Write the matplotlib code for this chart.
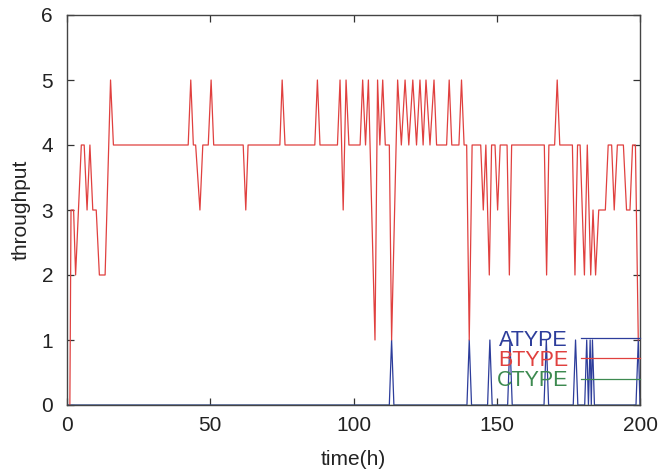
import matplotlib
matplotlib.use("Agg")
import matplotlib.pyplot as plt

plt.rcParams['font.family'] = ['Liberation Sans', 'DejaVu Sans']

# BTYPE throughput (red), vertices
b_time = [1, 1.4, 2.3, 3, 5, 6, 7, 8, 9, 10.2, 11.3, 13.3, 15.2, 16.2,
          42.3, 43.2, 44.1, 44.9, 46.4, 47.4, 49.3, 50.3, 51.2,
          61.5, 62.4, 63.2, 74.3, 75.1, 76.1, 86.5, 87.4, 88.3,
          94.4, 95.3, 96.4, 97.4, 98.4, 102.3, 103.2, 104.2, 105.2,
          107.5, 108.4, 109.2, 110.2, 111.1, 112.5, 113.3,
          115.4, 116.7, 118.0, 119.3, 120.7, 122.0, 123.2, 124.3, 125.3,
          126.7, 128.1, 129.0, 132.5, 133.4, 134.3, 136.8, 137.7, 138.6,
          139.5, 140.4, 141.4, 144.4, 145.3, 146.2, 147.4, 148.2, 149.4,
          150.3, 151.2, 153.6, 154.4, 155.2, 166.6, 167.4, 168.2, 170.2,
          171.1, 172.0, 176.4, 177.3, 178.2, 179.1, 180.6, 181.6, 182.8,
          183.6, 184.5, 185.6, 187.9, 188.9, 190.1, 191.0, 192.1, 194.2,
          195.3, 196.5, 197.4, 198.4, 199.4]
b_vals = [0, 3, 3, 2, 4, 4, 3, 4, 3, 3, 2, 2, 5, 4,
          4, 5, 4, 4, 3, 4, 4, 5, 4,
          4, 3, 4, 4, 5, 4, 4, 5, 4,
          4, 5, 3, 5, 4, 4, 5, 4, 5,
          1, 5, 4, 5, 4, 4, 1,
          5, 4, 5, 4, 5, 4, 5, 4, 5,
          4, 5, 4, 4, 5, 4, 4, 5, 4,
          4, 1, 4, 4, 3, 4, 2, 4, 4,
          3, 4, 4, 2, 4, 4, 2, 4, 4,
          5, 4, 4, 2, 4, 4, 2, 4, 2,
          3, 2, 3, 3, 4, 4, 3, 4, 4,
          3, 3, 4, 4, 1]

# ATYPE throughput (blue): zero with short spikes
a_time = [0, 112.5, 113.3, 114.1, 139.6, 140.4, 141.2, 146.8, 147.6, 148.4,
          153.8, 154.6, 155.4, 166.5, 167.3, 168.1, 176.7, 177.5, 178.3,
          180.7, 181.4, 182.0, 182.6, 183.0, 183.4, 184.1,
          198.6, 199.4, 200]
a_vals = [0, 0, 1, 0, 0, 1, 0, 0, 1, 0,
          0, 1, 0, 0, 1, 0, 0, 1, 0,
          0, 1, 0, 1, 0, 1, 0,
          0, 1, 0]

# CTYPE throughput (green): zero all along
c_time = [0, 200]
c_vals = [0, 0]

fig = plt.figure(figsize=(6.61, 4.75), dpi=100)
ax = fig.add_axes([67 / 661, 70 / 475, 573 / 661, 390 / 475])

ax.plot(a_time, a_vals, color="#2d3d9b", linewidth=0.9, label="ATYPE")
ax.plot(b_time, b_vals, color="#e0403f", linewidth=0.9, label="BTYPE")
ax.plot(c_time, c_vals, color="#3d8a50", linewidth=0.9, label="CTYPE")

ax.set_xlim(0, 200)
ax.set_ylim(0, 6)
ax.set_xticks([0, 50, 100, 150, 200])
ax.set_yticks([0, 1, 2, 3, 4, 5, 6])
ax.tick_params(direction="in", length=5, width=0.9, top=True, right=True,
               labelsize=15, colors="#333333", labelcolor="#222222")
ax.tick_params(axis="x", pad=8)
ax.tick_params(axis="y", pad=10)
for s in ax.spines.values():
    s.set_color("#444444")
    s.set_linewidth(1.0)

ax.set_xlabel("time(h)", fontsize=15, color="#222222", labelpad=11)
ax.set_ylabel("throughput", fontsize=15, color="#222222", labelpad=8)

leg = ax.legend(loc="lower right", bbox_to_anchor=(1.0, 0.035), frameon=False,
                markerfirst=False, fontsize=15.5, handlelength=2.75,
                handletextpad=0.6, labelspacing=-0.03, borderaxespad=0.0,
                borderpad=0.0, labelcolor="linecolor")

fig.savefig("out.png", dpi=100)
